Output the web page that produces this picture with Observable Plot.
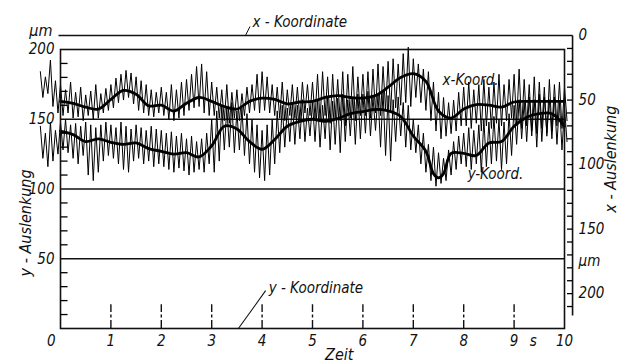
<!DOCTYPE html>
<html><head><meta charset="utf-8">
<script src="https://cdn.jsdelivr.net/npm/d3@7"></script>
<script src="https://cdn.jsdelivr.net/npm/@observablehq/plot@0.6"></script>
<style>
html,body{margin:0;padding:0;background:#fff;}
</style></head><body><div id="chart"></div>
<script>
// ---- tick labels / axes ----
const xTickLabels = [1,2,3,4,5,6,7,8,9,10];
const markerTimes = [1,2,3,4,5,6,7,8,9];
const leftLabels = [50,100,150,200];
const gridLines = [50,100,150];
const leftMinor = [10,20,30,40,60,70,80,90,110,120,130,140,160,170,180,190];
const rightLabels = [0,50,100,150,200];
const rightTicks = [10,20,30,40,50,60,70,80,90,100,110,120,130,140,150,160,170,180,190,200,210];

// ---- raw traces: upper/lower excursions every 0.1 s from t = -0.4 s ----
// x-Koordinate (right axis, µm, 0 at top)
const xRawHi = [28,32,19,35,
 38,42,36,44,40,46,43,38,45,41,
 38,33,30,27,29,32,35,38,42,44,
 40,44,38,42,36,34,30,24,22,28,
 36,40,42,38,44,42,45,40,38,30,
 28,32,38,40,36,42,38,40,36,38,
 36,30,28,32,30,34,28,30,24,32,
 30,28,26,22,24,20,18,22,14,9,
 18,22,26,28,36,44,48,52,50,44,
 40,36,42,38,34,40,36,30,38,34,
 30,26,34,38,32,36,40,34,38,36,
 40];
const xRawLo = [48,45,55,60,
 62,60,64,63,66,62,65,64,60,58,
 56,52,50,48,53,58,60,62,63,60,
 62,65,66,64,62,58,56,55,60,62,
 62,64,66,68,64,66,62,60,58,60,
 58,60,62,64,66,62,64,65,60,62,
 64,66,62,68,64,66,70,64,66,62,
 62,64,60,62,58,60,56,54,52,55,
 48,52,58,66,74,80,78,76,74,70,
 70,72,68,74,70,72,68,70,66,64,
 68,72,70,74,76,72,78,74,70,72,
 66];
// y-Koordinate (left axis, µm)
const yRawHi = [145,140,148,142,
 148,150,146,147,145,148,146,144,146,148,
 146,144,148,145,143,146,144,142,145,143,
 142,140,141,138,140,136,138,134,136,140,
 150,156,160,158,162,156,158,154,150,146,
 142,146,150,156,160,158,162,160,164,158,
 162,164,160,166,163,165,168,164,166,168,
 168,170,166,168,170,167,164,166,162,160,
 150,146,140,132,130,126,122,128,134,138,
 140,144,142,146,150,148,152,150,148,154,
 160,164,162,166,164,168,166,164,166,162,
 158];
const yRawLo = [122,116,120,125,
 128,126,122,118,124,110,106,112,120,124,
 122,118,114,112,120,122,118,120,116,118,
 116,114,112,115,113,110,112,114,112,118,
 112,120,128,130,126,128,124,118,112,108,
 106,110,118,126,130,134,132,136,134,138,
 134,130,136,128,132,126,134,138,132,136,
 140,138,142,130,124,120,134,138,130,128,
 126,118,112,106,102,104,106,110,114,118,
 116,114,118,112,116,118,120,114,118,124,
 132,136,134,138,130,134,140,136,132,128,
 134];

// ---- smoothed (mean) curves ----
const xSmoothT = [0,0.25,0.5,0.75,1,1.25,1.5,1.75,2,2.25,2.5,2.75,3,3.25,3.5,3.75,4,4.25,4.5,4.75,5,5.25,5.5,5.75,6,6.25,6.5,6.75,7,7.25,7.5,7.75,8,8.25,8.5,8.75,9,9.25,9.5,9.75,10];
const xSmooth = [51,52.5,55.5,57,49.5,42.5,45.5,54.5,54,58.5,52.5,48,51,55,57,51,48.5,49.5,53,51.5,51,48,46.5,48,48.5,46.5,40,32.5,29.5,35.5,58.5,64,57,53.5,54,55.5,51.5,51,51,51,51];
const ySmoothT = [0,0.25,0.5,0.75,1,1.25,1.5,1.75,2,2.25,2.5,2.75,3,3.25,3.5,3.75,4,4.25,4.5,4.75,5,5.25,5.5,5.75,6,6.25,6.5,6.75,7,7.25,7.4,7.5,7.6,7.75,8,8.25,8.5,8.75,9,9.25,9.5,9.75,10];
const ySmooth = [141.5,139,134,136,133.5,132,133,129,127,125,126,123,131,145,143,134,128.5,135.5,145,148.5,150,148.5,150.5,154,155.5,157,156,152,138,127,111,108,111,125.5,125.5,124,133,134,145,151.5,154,154,145];

// ---- texts ----
const yAxisTitle = "y - Auslenkung";
const xAxisTitle = "x - Auslenkung";
const timeTitle = "Zeit";
const unitLabel = "µm";
const secLabel = "s";
const xCoordTitle = "x - Koordinate";
const yCoordTitle = "y - Koordinate";
const xCoordShort = "x-Koord.";
const yCoordShort = "y-Koord.";

// right axis (x-Auslenkung, 0 at top) expressed in left-axis units
const toLeft = v => 210 - v * 1.295 / 1.4;

const rawStep = 0.1, rawStart = -0.4;
function zig(hi, lo, f) {
  const out = [];
  hi.forEach((h, i) => {
    const t = rawStart + i * rawStep;
    out.push({t, v: f(h)});
    out.push({t: t + rawStep / 2, v: f(lo[i])});
  });
  return out;
}
const xRaw = zig(xRawHi, xRawLo, toLeft);
const yRaw = zig(yRawHi, yRawLo, v => v);
const xS = xSmoothT.map((t, i) => ({t, v: toLeft(xSmooth[i])}));
const yS = ySmoothT.map((t, i) => ({t, v: ySmooth[i]}));

const FONT = '"DejaVu Sans Condensed","DejaVu Sans",sans-serif';
const ink = "#111";
const txt = (o) => ({fill: ink, fontFamily: FONT, fontStyle: "italic", fontSize: 15, ...o});

const chart = Plot.plot({
  width: 634, height: 364,
  marginLeft: 60, marginRight: 70, marginTop: 49, marginBottom: 36,
  x: {domain: [0, 10], axis: null},
  y: {domain: [0, 200], axis: null},
  style: {background: "#fff", fontFamily: FONT},
  marks: [
    Plot.ruleY(gridLines, {stroke: ink, strokeWidth: 1.3}),
    Plot.ruleX(markerTimes, {y1: 0, y2: 17, stroke: ink, strokeWidth: 1.4, strokeDasharray: "8,2.5,3,2.5"}),
    Plot.line(yRaw, {x: "t", y: "v", stroke: "#000", strokeWidth: 1}),
    Plot.line(xRaw, {x: "t", y: "v", stroke: "#000", strokeWidth: 1}),
    Plot.line(yS, {x: "t", y: "v", stroke: "#000", strokeWidth: 2.8, curve: "catmull-rom"}),
    Plot.line(xS, {x: "t", y: "v", stroke: "#000", strokeWidth: 2.8, curve: "catmull-rom"}),
    Plot.frame({stroke: ink, strokeWidth: 1.6}),
    // right axis
    Plot.link([0], {x1: -0.04, x2: 10.16, y1: d => toLeft(d), y2: d => toLeft(d), stroke: ink, strokeWidth: 1.6}),
    Plot.link([0], {x1: 10.16, x2: 10.16, y1: toLeft(0), y2: toLeft(217), stroke: ink, strokeWidth: 1.6}),
    Plot.link(rightTicks, {x1: d => 10.05, x2: d => 10.16, y1: d => toLeft(d), y2: d => toLeft(d), stroke: "#000", strokeWidth: 1.3}),
    Plot.text(rightLabels, txt({x: 10.16, y: d => toLeft(d), text: d => String(d), dx: 6, textAnchor: "start"})),
    Plot.text([unitLabel], txt({x: 10.16, y: toLeft(175), text: d => d, dx: 6, textAnchor: "start"})),
    Plot.text([xAxisTitle], txt({x: 10.93, y: 121.4, text: d => d, rotate: -90, fontSize: 16})),
    // left axis
    Plot.link(leftMinor, {x1: d => 0, x2: d => 0.14, y1: d => d, y2: d => d, stroke: "#000", strokeWidth: 1.3}),
    Plot.text(leftLabels, txt({x: 0, y: d => d, text: d => String(d), dx: -6, textAnchor: "end"})),
    Plot.text([unitLabel], txt({x: 0, y: 213, text: d => d, dx: -8, textAnchor: "end", fontSize: 16})),
    Plot.text([yAxisTitle], txt({x: -0.69, y: 75.7, text: d => d, rotate: -90, fontSize: 16})),
    // bottom axis
    Plot.text(xTickLabels, txt({x: d => d, y: 0, text: d => String(d), dy: 13})),
    Plot.text([0], txt({x: 0, y: 0, text: d => String(d), dy: 13, dx: -5, textAnchor: "end"})),
    Plot.text([secLabel], txt({x: 9.38, y: 0, text: d => d, dy: 13})),
    Plot.text([timeTitle], txt({x: 5.53, y: 0, text: d => d, dy: 26, fontSize: 16})),
    // annotations
    Plot.text([xCoordTitle], txt({x: 3.81, y: 219.3, text: d => d, textAnchor: "start"})),
    Plot.link([0], {x1: 3.67, y1: 210, x2: 3.76, y2: 216.5, stroke: ink, strokeWidth: 1}),
    Plot.text([yCoordTitle], txt({x: 4.13, y: 28.6, text: d => d, textAnchor: "start"})),
    Plot.link([0], {x1: 3.53, y1: 0, x2: 4.07, y2: 27.1, stroke: ink, strokeWidth: 1.1}),
    Plot.text([xCoordShort], txt({x: 7.58, y: 177.9, text: d => d, textAnchor: "start"})),
    Plot.text([yCoordShort], txt({x: 8.08, y: 110.7, text: d => d, textAnchor: "start"}))
  ]
});
document.getElementById("chart").appendChild(chart);
</script>
</body></html>
